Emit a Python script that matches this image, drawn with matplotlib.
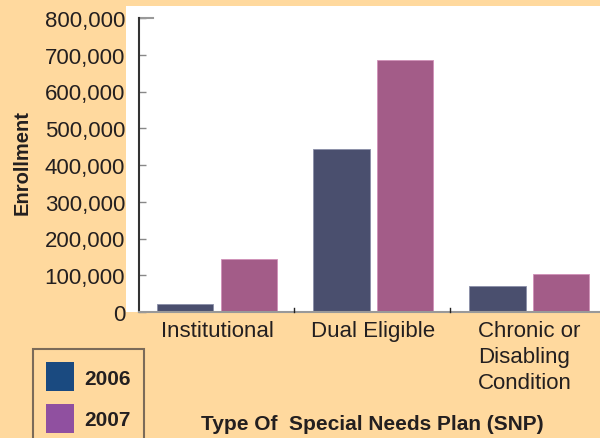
import numpy as np
import matplotlib
matplotlib.use('Agg')
import matplotlib.pyplot as plt
from matplotlib.patches import Rectangle, Patch
from matplotlib.ticker import FuncFormatter

categories = ['Institutional', 'Dual Eligible', 'Chronic or\nDisabling\nCondition']
years = ['2006', '2007']
enroll_2006 = [22000, 443000, 71000]
enroll_2007 = [145000, 686000, 104000]
yticks = [0, 100000, 200000, 300000, 400000, 500000, 600000, 700000, 800000]

bg = '#FFD99E'
bar_colors = ['#4a4f6e', '#a35c88']
legend_colors = ['#1a4a80', '#9050a0']

plt.rcParams['font.family'] = ['Liberation Sans Narrow', 'Liberation Sans', 'DejaVu Sans']

fig = plt.figure(figsize=(6.0, 4.39), dpi=100)
fig.patch.set_facecolor(bg)

# white panel behind the plot
fig.patches.append(Rectangle((126 / 600, 1 - 313 / 439), 1 - 126 / 600, (313 - 7) / 439,
                             transform=fig.transFigure, facecolor='white',
                             edgecolor='none', zorder=-5))

ax = fig.add_axes([139 / 600, 1 - 313 / 439, 1 - 139 / 600, (313 - 19) / 439])
ax.set_facecolor('none')

x = np.arange(len(categories))
w = 0.365
off = 0.205
ax.bar(x - off, enroll_2006, w, color=bar_colors[0], edgecolor='#8a8fa8', linewidth=0.6, zorder=2)
ax.bar(x + off, enroll_2007, w, color=bar_colors[1], edgecolor='#d090b8', linewidth=0.6, zorder=2)

ax.set_xlim(-0.5, 2.455)
ax.set_ylim(0, 800000)
ax.set_yticks(yticks)
ax.yaxis.set_major_formatter(FuncFormatter(lambda v, p: f'{int(v):,}'))
ax.tick_params(axis='y', direction='in', length=5, width=1, color='#888888',
               labelsize=16, labelcolor='#231f20', pad=10)

ax.set_xticks(x)
ax.set_xticklabels(categories, fontsize=16, color='#231f20', va='top', linespacing=1.3)
ax.tick_params(axis='x', length=0, pad=6)
ax.get_xticklabels()[2].set_multialignment('left')
# separator ticks between groups
for s in [0.495, 1.495]:
    ax.plot([s, s], [0, 12000], color='#222222', lw=1, clip_on=False, zorder=3)

for side in ['top', 'right']:
    ax.spines[side].set_visible(False)
ax.spines['left'].set_color('#333333')
ax.spines['left'].set_linewidth(1.5)
ax.spines['bottom'].set_color('#999999')
ax.spines['bottom'].set_linewidth(1.5)
ax.plot([0, 0.03], [800000, 800000], transform=ax.get_yaxis_transform(),
        color='#999999', lw=1.5, clip_on=False)

fig.text(22 / 600, 1 - 163 / 439, 'Enrollment', rotation=90, ha='center', va='center',
         fontsize=14.5, fontweight='bold', color='#231f20')
fig.text(372 / 600, 1 - 425 / 439, 'Type Of  Special Needs Plan (SNP)', ha='center',
         va='center', fontsize=15, fontweight='bold', color='#231f20')

handles = [Patch(facecolor=c, edgecolor='none') for c in legend_colors]
leg = fig.legend(handles, years, loc='lower left', bbox_to_anchor=(39 / 600, -0.005),
                 frameon=True, fontsize=15, handlelength=1.35, handleheight=1.75,
                 borderpad=0.35, labelspacing=0.62, handletextpad=0.45, borderaxespad=0)
leg.get_frame().set_facecolor(bg)
leg.get_frame().set_edgecolor('#5a5048')
leg.get_frame().set_linewidth(1.5)
leg.get_frame().set_boxstyle('square')
for t in leg.get_texts():
    t.set_fontweight('bold')
    t.set_color('#231f20')

fig.savefig('out.png', dpi=100, facecolor=bg)
